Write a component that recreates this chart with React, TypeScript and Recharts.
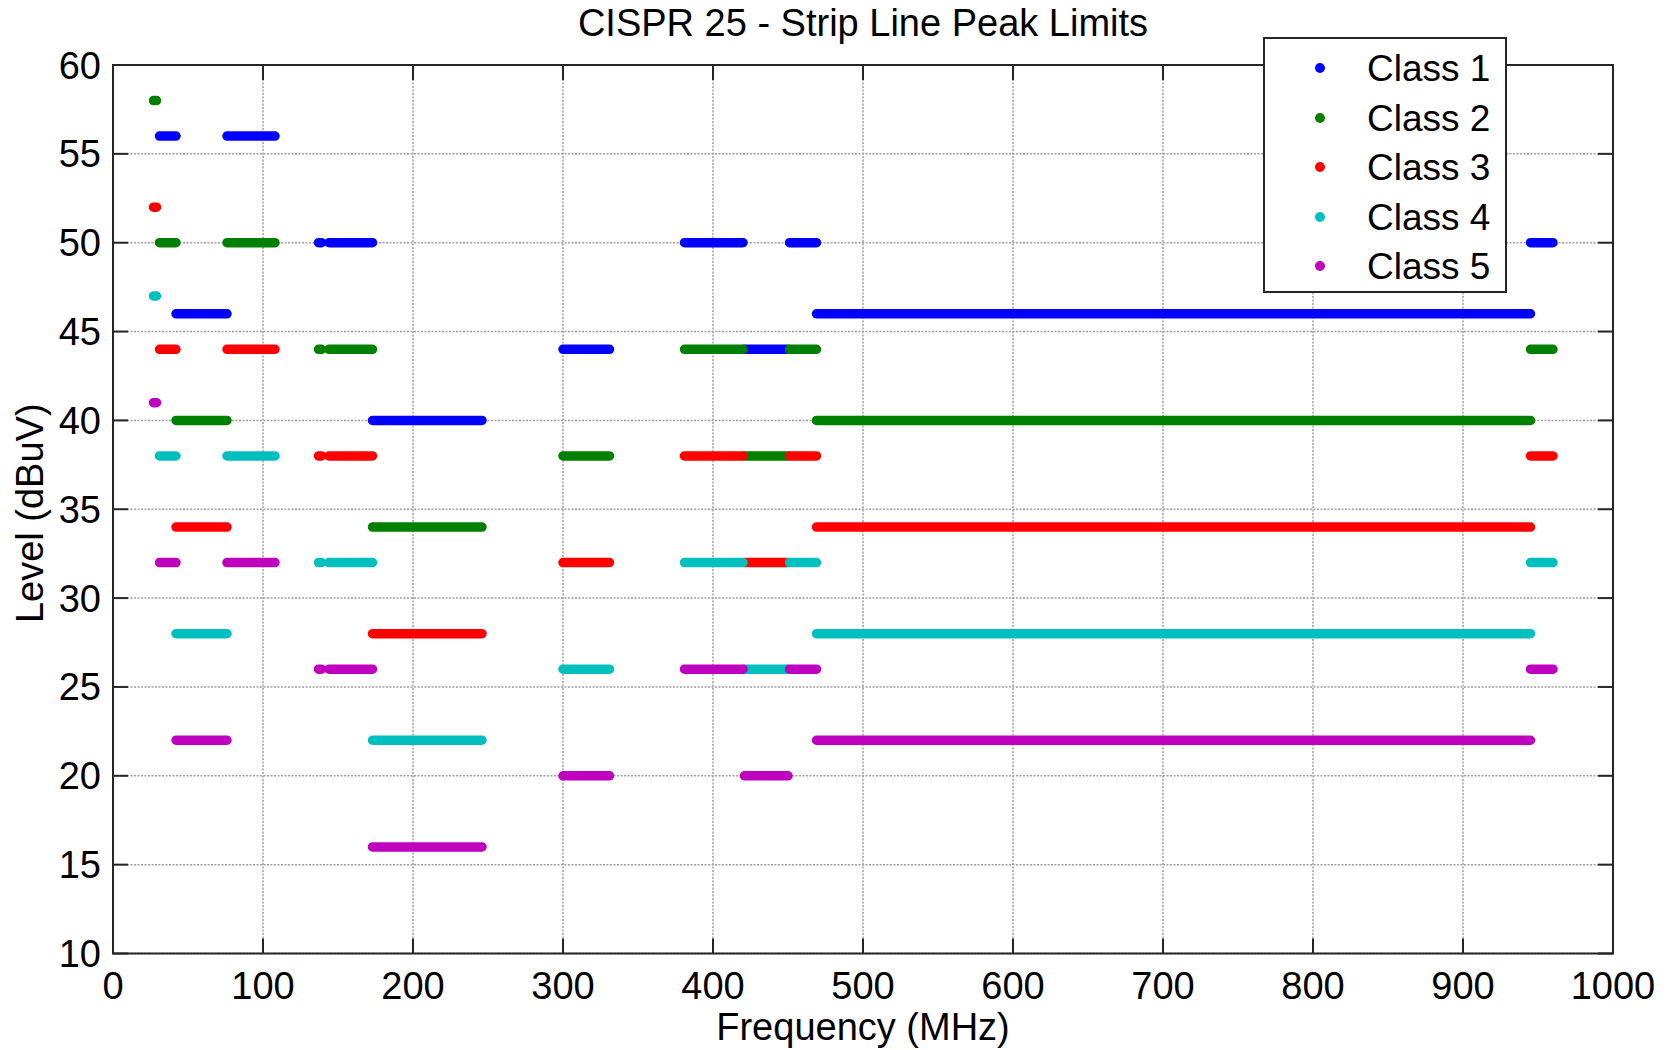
import React from "react";
import { LineChart, Line, XAxis, YAxis, CartesianGrid, Legend } from "recharts";

// frequency bands (MHz) and peak limits (dBuV) per class
const bandStart = [27, 31, 42, 76, 137, 144, 173, 300, 381, 421, 451, 469, 945];
const bandStop = [29, 42, 76, 108, 139, 173, 246, 331, 420, 450, 469, 945, 960];
const class1 = [null, 56, 46, 56, 50, 50, 40, 44, 50, 44, 50, 46, 50];
const class2 = [58, 50, 40, 50, 44, 44, 34, 38, 44, 38, 44, 40, 44];
const class3 = [52, 44, 34, 44, 38, 38, 28, 32, 38, 32, 38, 34, 38];
const class4 = [47, 38, 28, 38, 32, 32, 22, 26, 32, 26, 32, 28, 32];
const class5 = [41, 32, 22, 32, 26, 26, 16, 20, 26, 20, 26, 22, 26];

const classNames = ["Class 1", "Class 2", "Class 3", "Class 4", "Class 5"];
const classColors = ["#0000ff", "#008000", "#ff0000", "#00bfbf", "#bf00bf"];
const xTicks = [0, 100, 200, 300, 400, 500, 600, 700, 800, 900, 1000];
const yTicks = [10, 15, 20, 25, 30, 35, 40, 45, 50, 55, 60];

const W = 1675;
const H = 1050;
const Y_AXIS_W = 90;
const X_AXIS_H = 60;
const margin = { top: 65, right: 62, bottom: 36.5, left: 23 };
const PLOT_LEFT = margin.left + Y_AXIS_W;
const PLOT_TOP = margin.top;
const PLOT_RIGHT = W - margin.right;
const PLOT_BOTTOM = H - margin.bottom - X_AXIS_H;
const TICK = 15;
const FONT = "'Liberation Sans', Arial, Helvetica, sans-serif";
const AXIS_COLOR = "#262626";
const FS = 38;

function toSegments(levels: (number | null)[]) {
  const rows: { f: number; v: number | null }[] = [];
  levels.forEach((v, i) => {
    if (v == null) return;
    rows.push({ f: bandStart[i], v });
    rows.push({ f: bandStop[i], v });
    rows.push({ f: bandStop[i], v: null });
  });
  return rows;
}

const series = [class1, class2, class3, class4, class5].map((lv, i) => ({
  name: classNames[i],
  color: classColors[i],
  data: toSegments(lv),
}));

function XTick(props: any) {
  const { x, payload } = props;
  return (
    <g>
      <line x1={x} x2={x} y1={PLOT_BOTTOM} y2={PLOT_BOTTOM - TICK} stroke={AXIS_COLOR} strokeWidth={2} />
      <line x1={x} x2={x} y1={PLOT_TOP} y2={PLOT_TOP + TICK} stroke={AXIS_COLOR} strokeWidth={2} />
      <text x={x} y={PLOT_BOTTOM + 45} textAnchor="middle" fontSize={FS} fontFamily={FONT} fill="#000">
        {payload.value}
      </text>
    </g>
  );
}

function YTick(props: any) {
  const { y, payload } = props;
  return (
    <g>
      <line x1={PLOT_LEFT} x2={PLOT_LEFT + TICK} y1={y} y2={y} stroke={AXIS_COLOR} strokeWidth={2} />
      <line x1={PLOT_RIGHT} x2={PLOT_RIGHT - TICK} y1={y} y2={y} stroke={AXIS_COLOR} strokeWidth={2} />
      <text x={PLOT_LEFT - 12} y={y + 13.5} textAnchor="end" fontSize={FS} fontFamily={FONT} fill="#000">
        {payload.value}
      </text>
    </g>
  );
}

function LegendBox(props: any) {
  const items = props.payload || [];
  return (
    <div
      style={{
        boxSizing: "border-box",
        width: 244,
        height: 256,
        border: `2px solid ${AXIS_COLOR}`,
        background: "#fff",
        padding: "4px 0",
        fontFamily: FONT,
        fontSize: 37,
        color: "#000",
      }}
    >
      {items.map((it: any) => (
        <div key={it.value} style={{ position: "relative", height: 49.5 }}>
          <span
            style={{
              position: "absolute",
              left: 50,
              top: 20,
              width: 10,
              height: 10,
              borderRadius: 5,
              background: it.color,
            }}
          />
          <span style={{ position: "absolute", left: 102, top: 4, lineHeight: "44px", whiteSpace: "nowrap" }}>
            {it.value}
          </span>
        </div>
      ))}
    </div>
  );
}

export default function App() {
  const cx = (PLOT_LEFT + PLOT_RIGHT) / 2;
  const cy = (PLOT_TOP + PLOT_BOTTOM) / 2 + 4;
  return (
    <div
      style={{
        position: "absolute",
        left: 0,
        top: 0,
        width: W,
        height: H,
        overflow: "hidden",
        fontFamily: FONT,
        background: "#fff",
      }}
    >
      <LineChart width={W} height={H} margin={margin}>
        <CartesianGrid
          stroke="#a0a0a0"
          strokeWidth={1.5}
          strokeDasharray="2 1.5"
          verticalValues={xTicks}
          horizontalValues={yTicks}
        />
        <XAxis
          type="number"
          dataKey="f"
          domain={[0, 1000]}
          ticks={xTicks}
          interval={0}
          allowDataOverflow
          height={X_AXIS_H}
          axisLine={false}
          tickLine={false}
          tick={<XTick />}
        />
        <YAxis
          type="number"
          domain={[10, 60]}
          ticks={yTicks}
          interval={0}
          allowDataOverflow
          width={Y_AXIS_W}
          axisLine={false}
          tickLine={false}
          tick={<YTick />}
        />
        {series.map((s) => (
          <Line
            key={s.name}
            name={s.name}
            data={s.data}
            dataKey="v"
            type="linear"
            stroke={s.color}
            strokeWidth={9.5}
            strokeLinecap="round"
            dot={false}
            activeDot={false}
            connectNulls={false}
            isAnimationActive={false}
            legendType="circle"
          />
        ))}
        <rect
          x={PLOT_LEFT}
          y={PLOT_TOP}
          width={PLOT_RIGHT - PLOT_LEFT}
          height={PLOT_BOTTOM - PLOT_TOP}
          fill="none"
          stroke={AXIS_COLOR}
          strokeWidth={2}
        />
        <text x={cx} y={36} textAnchor="middle" fontSize={FS} fontFamily={FONT} fill="#000">
          CISPR 25 - Strip Line Peak Limits
        </text>
        <text x={cx} y={1040} textAnchor="middle" fontSize={FS} fontFamily={FONT} fill="#000">
          Frequency (MHz)
        </text>
        <text
          x={43}
          y={cy}
          transform={`rotate(-90 43 ${cy})`}
          textAnchor="middle"
          fontSize={FS}
          fontFamily={FONT}
          fill="#000"
        >
          Level (dBuV)
        </text>
        <Legend
          layout="vertical"
          align="center"
          verticalAlign="middle"
          content={<LegendBox />}
          wrapperStyle={{ position: "absolute", left: 1263, top: 37, width: 244, height: 256 }}
        />
      </LineChart>
    </div>
  );
}
